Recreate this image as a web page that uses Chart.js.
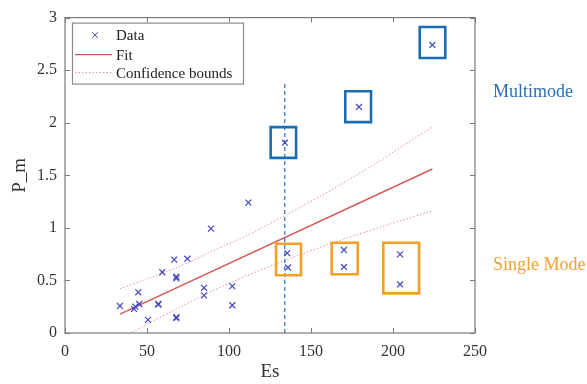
<!DOCTYPE html>
<html>
<head>
<meta charset="utf-8">
<script src="https://cdn.jsdelivr.net/npm/chart.js@4.4.1/dist/chart.umd.min.js"></script>
<style>
  html, body { margin: 0; padding: 0; background: #ffffff; }
  #wrap { width: 587px; height: 384px; position: relative; }
</style>
</head>
<body>
<div id="wrap"><canvas id="c" width="587" height="384"></canvas></div>
<script>
// ---- data ----
const esValues = [33.5, 42.1, 42.9, 45.3, 44.7, 50.6, 56.9, 56.9, 59.3, 66.6, 67.9, 67.9, 67.9, 67.9, 74.6, 84.8, 84.8, 89.0, 102.0, 102.0, 111.8, 135.5, 136.0, 134.1, 179.3, 224.0, 170.1, 170.1, 204.3, 204.3];
const pmValues = [0.257, 0.229, 0.251, 0.276, 0.387, 0.125, 0.276, 0.270, 0.578, 0.698, 0.520, 0.535, 0.141, 0.150, 0.707, 0.430, 0.358, 0.993, 0.446, 0.264, 1.240, 0.760, 0.623, 1.810, 2.150, 2.740, 0.790, 0.628, 0.748, 0.462];

const fitX = [33.5, 224];
const fitY = [0.18, 1.56];

const boundX = [33.5, 50, 70, 90, 110, 135, 160, 185, 205, 224];
const upperY = [0.42, 0.515, 0.635, 0.78, 0.92, 1.125, 1.34, 1.57, 1.77, 1.96];
const lowerY = [-0.06, 0.085, 0.245, 0.40, 0.54, 0.695, 0.84, 0.97, 1.07, 1.16];

const markerLineX = [134, 134];
const markerLineY = [0, 2.39];

// boxes: [xmin, xmax, ymin, ymax]
const multimodeBoxes = [[125.4, 140.9, 1.666, 1.958], [170.9, 186.6, 2.006, 2.300], [216.3, 231.9, 2.616, 2.910]];
const singleModeBoxes = [[128.7, 143.9, 0.549, 0.849], [162.6, 178.5, 0.559, 0.858], [194.1, 215.9, 0.377, 0.858]];

const xTickValues = [0, 50, 100, 150, 200, 250];
const xTickLabels = ['0', '50', '100', '150', '200', '250'];
const yTickValues = [0, 0.5, 1, 1.5, 2, 2.5, 3];
const yTickLabels = ['0', '0.5', '1', '1.5', '2', '2.5', '3'];

const legendLabels = ['Data', 'Fit', 'Confidence bounds'];
const xTitle = 'Es';
const yTitle = 'P_m';
const groupLabels = ['Multimode', 'Single Mode'];

// ---- styles ----
const SERIF = '"Liberation Serif", "DejaVu Serif", serif';
const dataColor = '#4444c4';
const fitColor = '#d65a5a';
const boundColor = '#e69090';
const blueBox = '#1a6db2';
const orangeBox = '#f3a024';
const axisColor = '#7a7a7a';
const textColor = '#333333';

function pts(xs, ys) { return xs.map((x, i) => ({ x: x, y: ys[i] })); }
function boxPts(b) {
  return [{x: b[0], y: b[2]}, {x: b[1], y: b[2]}, {x: b[1], y: b[3]}, {x: b[0], y: b[3]}, {x: b[0], y: b[2]}];
}

const datasets = [
  { label: legendLabels[0], type: 'scatter', data: pts(esValues, pmValues), showLine: false,
    pointStyle: 'crossRot', pointRadius: 4.2, pointBorderWidth: 1.2, borderColor: dataColor, backgroundColor: dataColor, order: 1 },
  { label: legendLabels[1], type: 'line', data: pts(fitX, fitY), borderColor: fitColor, borderWidth: 1.5,
    pointRadius: 0, fill: false, order: 3 },
  { label: legendLabels[2], type: 'line', data: pts(boundX, upperY), borderColor: boundColor, borderWidth: 1,
    borderDash: [1.5, 2], pointRadius: 0, fill: false, tension: 0.3, order: 3 },
  { label: 'lower', type: 'line', data: pts(boundX, lowerY), borderColor: boundColor, borderWidth: 1,
    borderDash: [1.5, 2], pointRadius: 0, fill: false, tension: 0.3, order: 3 },
  { label: 'marker', type: 'line', data: pts(markerLineX, markerLineY), borderColor: '#3b78c2', borderWidth: 1.3,
    borderDash: [4, 3], pointRadius: 0, fill: false, order: 2 }
];
multimodeBoxes.forEach((b, i) => datasets.push({ label: 'mm' + i, type: 'line', data: boxPts(b), borderColor: blueBox,
  borderWidth: 2.6, pointRadius: 0, fill: false, tension: 0, order: 0, borderJoinStyle: 'miter', borderCapStyle: 'square' }));
singleModeBoxes.forEach((b, i) => datasets.push({ label: 'sm' + i, type: 'line', data: boxPts(b), borderColor: orangeBox,
  borderWidth: 2.6, pointRadius: 0, fill: false, tension: 0, order: 0, borderJoinStyle: 'miter', borderCapStyle: 'square' }));

const framePlugin = {
  id: 'frame',
  afterDraw(chart) {
    const ctx = chart.ctx;
    const a = chart.chartArea;
    const xs = chart.scales.x, ys = chart.scales.y;
    ctx.save();
    // frame
    ctx.strokeStyle = axisColor;
    ctx.lineWidth = 1.2;
    ctx.strokeRect(a.left, a.top, a.right - a.left, a.bottom - a.top);
    // inside ticks
    ctx.lineWidth = 1;
    const L = 5;
    ctx.beginPath();
    xTickValues.forEach(v => {
      const px = Math.round(xs.getPixelForValue(v)) + 0.5;
      ctx.moveTo(px, a.bottom); ctx.lineTo(px, a.bottom - L);
      ctx.moveTo(px, a.top); ctx.lineTo(px, a.top + L);
    });
    yTickValues.forEach(v => {
      const py = Math.round(ys.getPixelForValue(v)) + 0.5;
      ctx.moveTo(a.left, py); ctx.lineTo(a.left + L, py);
      ctx.moveTo(a.right, py); ctx.lineTo(a.right - L, py);
    });
    ctx.stroke();

    // legend
    const lx = a.left + 7, ly = a.top + 5;
    ctx.fillStyle = '#ffffff';
    ctx.fillRect(lx, ly, 171, 61);
    ctx.strokeStyle = '#8a8a8a';
    ctx.lineWidth = 1.2;
    ctx.strokeRect(lx + 0.5, ly + 0.5, 171, 61);
    // data marker
    ctx.strokeStyle = dataColor; ctx.lineWidth = 1;
    const mx = lx + 23, my = ly + 12.5, r = 2.8;
    ctx.beginPath();
    ctx.moveTo(mx - r, my - r); ctx.lineTo(mx + r, my + r);
    ctx.moveTo(mx + r, my - r); ctx.lineTo(mx - r, my + r);
    ctx.stroke();
    // fit line
    ctx.strokeStyle = fitColor; ctx.lineWidth = 1.3;
    ctx.beginPath(); ctx.moveTo(lx + 3, ly + 32); ctx.lineTo(lx + 40, ly + 32); ctx.stroke();
    // bounds line
    ctx.strokeStyle = boundColor; ctx.lineWidth = 1; ctx.setLineDash([1.5, 2]);
    ctx.beginPath(); ctx.moveTo(lx + 3, ly + 50); ctx.lineTo(lx + 40, ly + 50); ctx.stroke();
    ctx.setLineDash([]);
    ctx.fillStyle = '#222222';
    ctx.font = '15px ' + SERIF;
    ctx.textBaseline = 'alphabetic';
    ctx.textAlign = 'left';
    ctx.fillText(legendLabels[0], lx + 44, ly + 17.5);
    ctx.fillText(legendLabels[1], lx + 44, ly + 37);
    ctx.fillText(legendLabels[2], lx + 44, ly + 55.5);

    // group labels
    ctx.font = '18px ' + SERIF;
    ctx.fillStyle = '#2a6fb3';
    ctx.fillText(groupLabels[0], a.right + 18, 96.5);
    ctx.fillStyle = '#f0a032';
    ctx.fillText(groupLabels[1], a.right + 18, 269.5);
    ctx.restore();
  }
};

new Chart(document.getElementById('c'), {
  type: 'scatter',
  data: { datasets: datasets },
  options: {
    responsive: false,
    animation: false,
    layout: { padding: { top: 15, right: 112, bottom: 0, left: 0 } },
    plugins: { legend: { display: false }, tooltip: { enabled: false } },
    scales: {
      x: {
        type: 'linear', min: 0, max: 250,
        afterFit(s) { s.height = 51; },
        afterBuildTicks(s) { s.ticks = xTickValues.map(v => ({ value: v })); },
        grid: { display: false, drawTicks: false },
        border: { display: false },
        ticks: { padding: 9, color: textColor, font: { family: SERIF, size: 16 },
          callback: (v) => xTickLabels[xTickValues.indexOf(v)] },
        title: { display: true, text: xTitle, color: textColor, font: { family: SERIF, size: 19 },
          padding: { top: 0, bottom: 1 } }
      },
      y: {
        type: 'linear', min: 0, max: 3,
        afterFit(s) { s.width = 65; },
        afterBuildTicks(s) { s.ticks = yTickValues.map(v => ({ value: v })); },
        grid: { display: false, drawTicks: false },
        border: { display: false },
        ticks: { padding: 8, color: textColor, font: { family: SERIF, size: 16 },
          callback: (v) => yTickLabels[yTickValues.indexOf(v)] },
        title: { display: true, text: yTitle, color: textColor, font: { family: SERIF, size: 19 },
          padding: { top: 9, bottom: 0 } }
      }
    }
  },
  plugins: [framePlugin]
});
</script>
</body>
</html>
